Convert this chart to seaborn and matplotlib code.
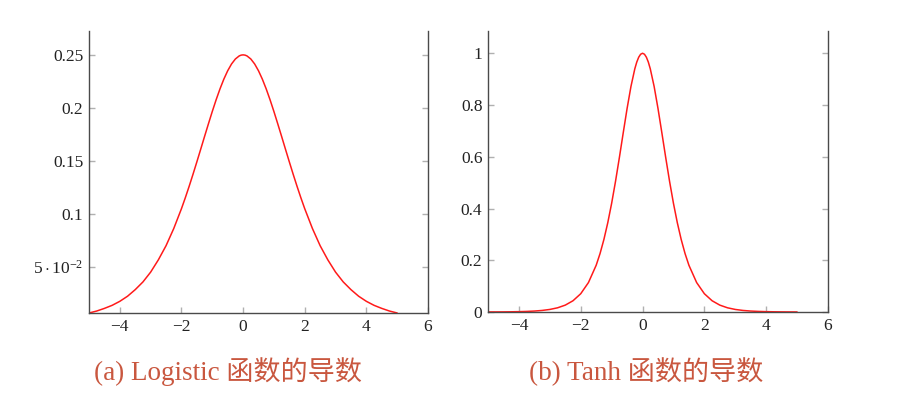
import matplotlib
matplotlib.use("Agg")
import matplotlib.pyplot as plt
import seaborn as sns
import pandas as pd

# ---- data ----
logistic_x = [-5.0, -4.75, -4.5, -4.25, -4.0, -3.75, -3.5, -3.25, -3.0, -2.75, -2.5, -2.25,
              -2.0, -1.875, -1.75, -1.625, -1.5, -1.375, -1.25, -1.125, -1.0, -0.875,
              -0.75, -0.625, -0.5, -0.375, -0.25, -0.125, -0.0625, 0.0,
              0.0625, 0.125, 0.25, 0.375, 0.5, 0.625, 0.75, 0.875, 1.0, 1.125, 1.25,
              1.375, 1.5, 1.625, 1.75, 1.875, 2.0, 2.25, 2.5, 2.75,
              3.0, 3.25, 3.5, 3.75, 4.0, 4.25, 4.5, 4.75, 5.0]
logistic_y = [0.00665, 0.00850, 0.01099, 0.01387, 0.01766, 0.02245, 0.02867, 0.03593, 0.04518,
              0.05674, 0.07010, 0.08629, 0.10499, 0.11528, 0.12613, 0.13745, 0.14915,
              0.16108, 0.17311, 0.18497, 0.19661, 0.20766, 0.21789, 0.22709, 0.23500,
              0.24142, 0.24613, 0.24903, 0.24976, 0.25000,
              0.24976, 0.24903, 0.24613, 0.24142, 0.23500, 0.22709, 0.21789, 0.20766,
              0.19661, 0.18497, 0.17311, 0.16108, 0.14915, 0.13745, 0.12613, 0.11528,
              0.10499, 0.08629, 0.07010, 0.05674, 0.04518, 0.03593, 0.02867, 0.02245,
              0.01766, 0.01387, 0.01099, 0.00850, 0.00665]

tanh_x = [-5.0, -4.75, -4.5, -4.25, -4.0, -3.75, -3.5, -3.25, -3.0, -2.75, -2.5, -2.25,
          -2.0, -1.75, -1.5, -1.375, -1.25, -1.125, -1.0, -0.875, -0.75, -0.625, -0.5,
          -0.375, -0.25, -0.1875, -0.125, -0.0625,
          0.0, 0.0625, 0.125, 0.1875, 0.25, 0.375, 0.5, 0.625, 0.75, 0.875, 1.0, 1.125,
          1.25, 1.375, 1.5, 1.75, 2.0,
          2.25, 2.5, 2.75, 3.0, 3.25, 3.5, 3.75, 4.0, 4.25, 4.5, 4.75, 5.0]
tanh_y = [0.00018, 0.00030, 0.00049, 0.00081, 0.00134, 0.00221, 0.00364, 0.00600, 0.00987,
          0.01621, 0.02659, 0.04347, 0.07065, 0.11381, 0.18071, 0.22590, 0.28042,
          0.34503, 0.41997, 0.50452, 0.59659, 0.69243, 0.78645, 0.87158, 0.94002,
          0.96567, 0.98454, 0.99610,
          1.00000, 0.99610, 0.98454, 0.96567, 0.94002, 0.87158, 0.78645, 0.69243,
          0.59659, 0.50452, 0.41997, 0.34503, 0.28042, 0.22590, 0.18071, 0.11381,
          0.07065, 0.04347, 0.02659, 0.01621, 0.00987, 0.00600, 0.00364, 0.00221,
          0.00134, 0.00081, 0.00049, 0.00030, 0.00018]

x_ticks = [-4, -2, 0, 2, 4, 6]
x_tick_labels = ["\u22124", "\u22122", "0", "2", "4", "6"]
left_y_ticks = [0.05, 0.1, 0.15, 0.2, 0.25]
left_y_labels = [r"$5\cdot10^{-2}$", "0.1", "0.15", "0.2", "0.25"]
right_y_ticks = [0, 0.2, 0.4, 0.6, 0.8, 1.0]
right_y_labels = ["0", "0.2", "0.4", "0.6", "0.8", "1"]
captions = ["(a) Logistic 函数的导数", "(b) Tanh 函数的导数"]

sns.set_theme(style="white")
plt.rcParams["font.family"] = ["Liberation Serif", "Noto Sans CJK SC", "DejaVu Sans"]
plt.rcParams["mathtext.fontset"] = "custom"
plt.rcParams["mathtext.rm"] = "Liberation Serif"
plt.rcParams["mathtext.it"] = "Liberation Serif:italic"
plt.rcParams["axes.unicode_minus"] = True

fig = plt.figure(figsize=(9.01, 3.98), dpi=100)
ax1 = fig.add_axes([89 / 901, 1 - 313 / 398, 339 / 901, 282 / 398])
ax2 = fig.add_axes([488 / 901, 1 - 312 / 398, 340 / 901, 281 / 398])

df1 = pd.DataFrame({"x": logistic_x, "y": logistic_y})
df2 = pd.DataFrame({"x": tanh_x, "y": tanh_y})
sns.lineplot(data=df1, x="x", y="y", ax=ax1, color="#ff1a1a", linewidth=1.1, estimator=None)
sns.lineplot(data=df2, x="x", y="y", ax=ax2, color="#ff1a1a", linewidth=1.1, estimator=None)

ax1.set_ylim(0.00665, 0.2725)
ax2.set_ylim(0, 1.086)

for ax, yt, yl in [(ax1, left_y_ticks, left_y_labels), (ax2, right_y_ticks, right_y_labels)]:
    ax.set_xlim(-5, 6)
    ax.set_xticks(x_ticks)
    ax.set_xticklabels(x_tick_labels)
    ax.set_yticks(yt)
    ax.set_yticklabels(yl)
    ax.set_xlabel("")
    ax.set_ylabel("")
    ax.spines["top"].set_visible(False)
    for s in ["left", "right", "bottom"]:
        ax.spines[s].set_visible(True)
        ax.spines[s].set_color("#4a4a4a")
        ax.spines[s].set_linewidth(1.0)
    ax.tick_params(axis="both", direction="in", length=4.5, width=1.0, color="#b0b0b0",
                   labelsize=12.5, labelcolor="#222222", pad=4)
    ax.tick_params(axis="y", right=True, left=True, labelright=False)
    ax.tick_params(axis="x", top=False, bottom=True)
    ax.set_facecolor("white")

fig.text(228 / 901, 1 - 372 / 398, captions[0], ha="center", va="center",
         fontsize=19.5, color="#c9573f",
         family=["Liberation Serif", "Noto Sans CJK SC"])
fig.text(646 / 901, 1 - 372 / 398, captions[1], ha="center", va="center",
         fontsize=19.5, color="#c9573f",
         family=["Liberation Serif", "Noto Sans CJK SC"])

fig.savefig("out.png", dpi=100, facecolor="white")
